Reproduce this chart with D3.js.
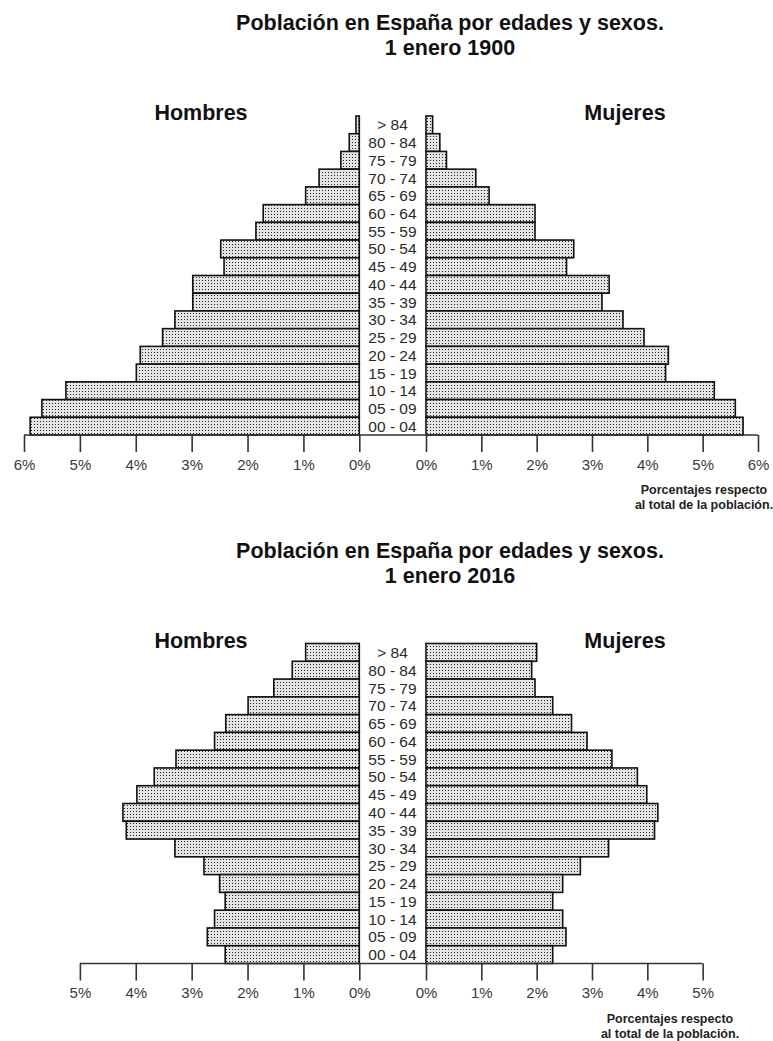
<!DOCTYPE html>
<html>
<head>
<meta charset="utf-8">
<script src="https://d3js.org/d3.v7.min.js"></script>
<style>
   body { margin: 0; background: white; }
   svg { font-family: "Liberation Sans", Arial, sans-serif; }
   .bar { fill: url(#dots); stroke: #111; stroke-width: 1.6; }
   .axis line { stroke: #333; stroke-width: 1.6; }
   .axis text { fill: #3a3a3a; font-size: 15px; }
</style>
</head>
<body>
<svg id="chart" width="773" height="1041"></svg>
<script>
   var ages = ["> 84","80 - 84","75 - 79","70 - 74","65 - 69","60 - 64","55 - 59","50 - 54","45 - 49",
               "40 - 44","35 - 39","30 - 34","25 - 29","20 - 24","15 - 19","10 - 14","05 - 09","00 - 04"];
   // porcentajes 1900
   var hombres1900 = [0.06,0.18,0.33,0.72,0.96,1.72,1.85,2.48,2.42,2.98,2.98,3.30,3.52,3.92,3.99,5.25,5.68,5.89];
   var mujeres1900 = [0.12,0.25,0.37,0.90,1.14,1.97,1.97,2.67,2.54,3.31,3.18,3.56,3.94,4.38,4.33,5.21,5.59,5.73];
   // porcentajes 2016
   var hombres2016 = [0.96,1.20,1.53,1.99,2.39,2.59,3.28,3.67,3.98,4.23,4.17,3.30,2.78,2.50,2.40,2.59,2.72,2.40];
   var mujeres2016 = [2.00,1.91,1.97,2.29,2.63,2.91,3.36,3.82,3.99,4.19,4.13,3.30,2.79,2.47,2.29,2.47,2.53,2.29];
   var ticks1900 = [0,1,2,3,4,5,6];
   var ticks2016 = [0,1,2,3,4,5];

   var svg = d3.select("#chart");

   var pat = svg.append("defs").append("pattern")
      .attr("id", "dots")
      .attr("width", 3).attr("height", 3)
      .attr("patternUnits", "userSpaceOnUse");
   pat.append("rect").attr("width", 3).attr("height", 3).attr("fill", "#e4e4e4");
   pat.append("rect").attr("x", 1).attr("y", 1).attr("width", 1).attr("height", 1).attr("fill", "#222");

   function piramide(top, base, maxPct, ticks, hombres, mujeres, anio, notaX) {
      var xL = d3.scaleLinear().domain([0, 6]).range([359.3, 24]);
      var xR = d3.scaleLinear().domain([0, 6]).range([426, 758]);
      var y = d3.scaleBand().domain(ages).range([top, base]).padding(0);

      svg.append("text")
         .attr("x", 450).attr("y", top - 86)
         .attr("text-anchor", "middle")
         .style("font-size", "21.5px").style("font-weight", "bold").style("fill", "#111")
         .text("Población en España por edades y sexos.");
      svg.append("text")
         .attr("x", 450).attr("y", top - 61)
         .attr("text-anchor", "middle")
         .style("font-size", "21.5px").style("font-weight", "bold").style("fill", "#111")
         .text("1 enero " + anio);

      svg.append("text").attr("x", 201).attr("y", top + 4)
         .attr("text-anchor", "middle")
         .style("font-size", "21.5px").style("font-weight", "bold").style("fill", "#111")
         .text("Hombres");
      svg.append("text").attr("x", 625).attr("y", top + 4)
         .attr("text-anchor", "middle")
         .style("font-size", "21.5px").style("font-weight", "bold").style("fill", "#111")
         .text("Mujeres");

      svg.append("g").selectAll("rect")
         .data(hombres).enter().append("rect")
         .attr("class", "bar")
         .attr("x", function(d) { return xL(d); })
         .attr("y", function(d, i) { return y(ages[i]); })
         .attr("width", function(d) { return xL(0) - xL(d); })
         .attr("height", y.bandwidth());
      svg.append("g").selectAll("rect")
         .data(mujeres).enter().append("rect")
         .attr("class", "bar")
         .attr("x", xR(0))
         .attr("y", function(d, i) { return y(ages[i]); })
         .attr("width", function(d) { return xR(d) - xR(0); })
         .attr("height", y.bandwidth());

      svg.append("g").selectAll("text")
         .data(ages).enter().append("text")
         .attr("x", 392.5)
         .attr("y", function(d) { return y(d) + y.bandwidth() / 2; })
         .attr("dy", "0.36em")
         .attr("text-anchor", "middle")
         .style("font-size", "15.5px").style("fill", "#2a2a2a")
         .text(function(d) { return d; });

      svg.append("line")
         .attr("x1", xL(maxPct)).attr("x2", xR(maxPct))
         .attr("y1", base).attr("y2", base)
         .style("stroke", "#333").style("stroke-width", 1.6);

      svg.append("g").attr("class", "axis")
         .attr("transform", "translate(0," + base + ")")
         .call(d3.axisBottom(xL).tickValues(ticks).tickSize(17).tickPadding(7)
               .tickFormat(function(d) { return d + "%"; }))
         .call(function(g) { g.select(".domain").remove(); });
      svg.append("g").attr("class", "axis")
         .attr("transform", "translate(0," + base + ")")
         .call(d3.axisBottom(xR).tickValues(ticks).tickSize(17).tickPadding(7)
               .tickFormat(function(d) { return d + "%"; }))
         .call(function(g) { g.select(".domain").remove(); });

      svg.append("text").attr("x", notaX).attr("y", base + 59)
         .attr("text-anchor", "middle")
         .style("font-size", "12.5px").style("font-weight", "bold").style("fill", "#222")
         .text("Porcentajes respecto");
      svg.append("text").attr("x", notaX).attr("y", base + 74)
         .attr("text-anchor", "middle")
         .style("font-size", "12.5px").style("font-weight", "bold").style("fill", "#222")
         .text("al total de la población.");
   }

   piramide(116, 435, 6, ticks1900, hombres1900, mujeres1900, "1900", 704);
   piramide(643.5, 963.5, 5, ticks2016, hombres2016, mujeres2016, "2016", 670);
</script>
</body>
</html>
